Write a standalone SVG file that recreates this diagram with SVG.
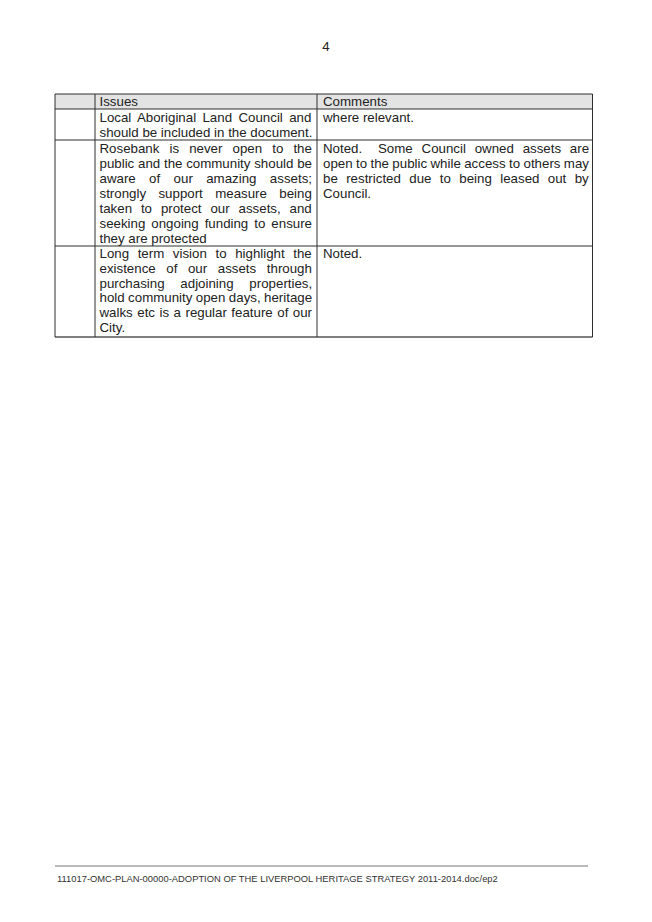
<svg xmlns="http://www.w3.org/2000/svg" width="652" height="922" viewBox="0 0 652 922">
<style>
text{font-family:"Liberation Sans",Arial,sans-serif;font-size:13.3px;fill:#222}
.grid line{stroke:#2e2e2e;stroke-width:1}
.ft{font-size:9.4px;fill:#333}
</style>
<rect width="652" height="922" fill="#ffffff"/>
<g id="page-number"><text x="326" y="51" text-anchor="middle">4</text></g>

<g id="header-shade"><rect x="55" y="94" width="537.5" height="15" fill="#e3e3e3"/></g>

<g id="grid" class="grid">
<line x1="55" y1="94" x2="592.5" y2="94"/>
<line x1="55" y1="109" x2="592.5" y2="109"/>
<line x1="55" y1="140" x2="592.5" y2="140"/>
<line x1="55" y1="246" x2="592.5" y2="246"/>
<line x1="55" y1="337" x2="592.5" y2="337" style="stroke-width:1.6;stroke:#555"/>
<line x1="55" y1="94" x2="55" y2="337"/>
<line x1="95" y1="94" x2="95" y2="337"/>
<line x1="317" y1="94" x2="317" y2="337"/>
<line x1="592.5" y1="94" x2="592.5" y2="337"/>
</g>

<g id="header-issues"><text x="99.5" y="105.5">Issues</text></g>
<g id="header-comments"><text x="323" y="105.5">Comments</text></g>

<g id="row1-issue">
<text x="99.5" y="121.5" word-spacing="2.7">Local Aboriginal Land Council and</text>
<text x="99.5" y="136.6">should be included in the document.</text>
</g>
<g id="row1-comment"><text x="323" y="121.5">where relevant.</text></g>

<g id="row2-issue">
<text x="99.5" y="152.5" word-spacing="6.4">Rosebank is never open to the</text>
<text x="99.5" y="167.5" word-spacing="0.06">public and the community should be</text>
<text x="99.5" y="182.5" word-spacing="9.7">aware of our amazing assets;</text>
<text x="99.5" y="197.5" word-spacing="8.7">strongly support measure being</text>
<text x="99.5" y="212.5" word-spacing="5.2">taken to protect our assets, and</text>
<text x="99.5" y="227.5" word-spacing="2.3">seeking ongoing funding to ensure</text>
<text x="99.5" y="242.5">they are protected</text>
</g>
<g id="row2-comment">
<text x="323" y="152.5">Noted.</text>
<text x="378" y="152.5" word-spacing="5.1">Some Council owned assets are</text>
<text x="323" y="167.5" word-spacing="-0.29">open to the public while access to others may</text>
<text x="323" y="182.5" word-spacing="4.7">be restricted due to being leased out by</text>
<text x="323" y="197.5">Council.</text>
</g>

<g id="row3-issue">
<text x="99.5" y="258.3" word-spacing="4.9">Long term vision to highlight the</text>
<text x="99.5" y="273" word-spacing="6.9">existence of our assets through</text>
<text x="99.5" y="287.7" word-spacing="12.1">purchasing adjoining properties,</text>
<text x="99.5" y="302.4" word-spacing="-0.25">hold community open days, heritage</text>
<text x="99.5" y="317.1" word-spacing="0.8">walks etc is a regular feature of our</text>
<text x="99.5" y="331.8">City.</text>
</g>
<g id="row3-comment"><text x="323" y="258.3">Noted.</text></g>

<g id="footer">
<line x1="55" y1="866" x2="588" y2="866" stroke="#777" stroke-width="1"/>
<text class="ft" x="57" y="882">111017-OMC-PLAN-00000-ADOPTION OF THE LIVERPOOL HERITAGE STRATEGY 2011-2014.doc/ep2</text>
</g>
</svg>
